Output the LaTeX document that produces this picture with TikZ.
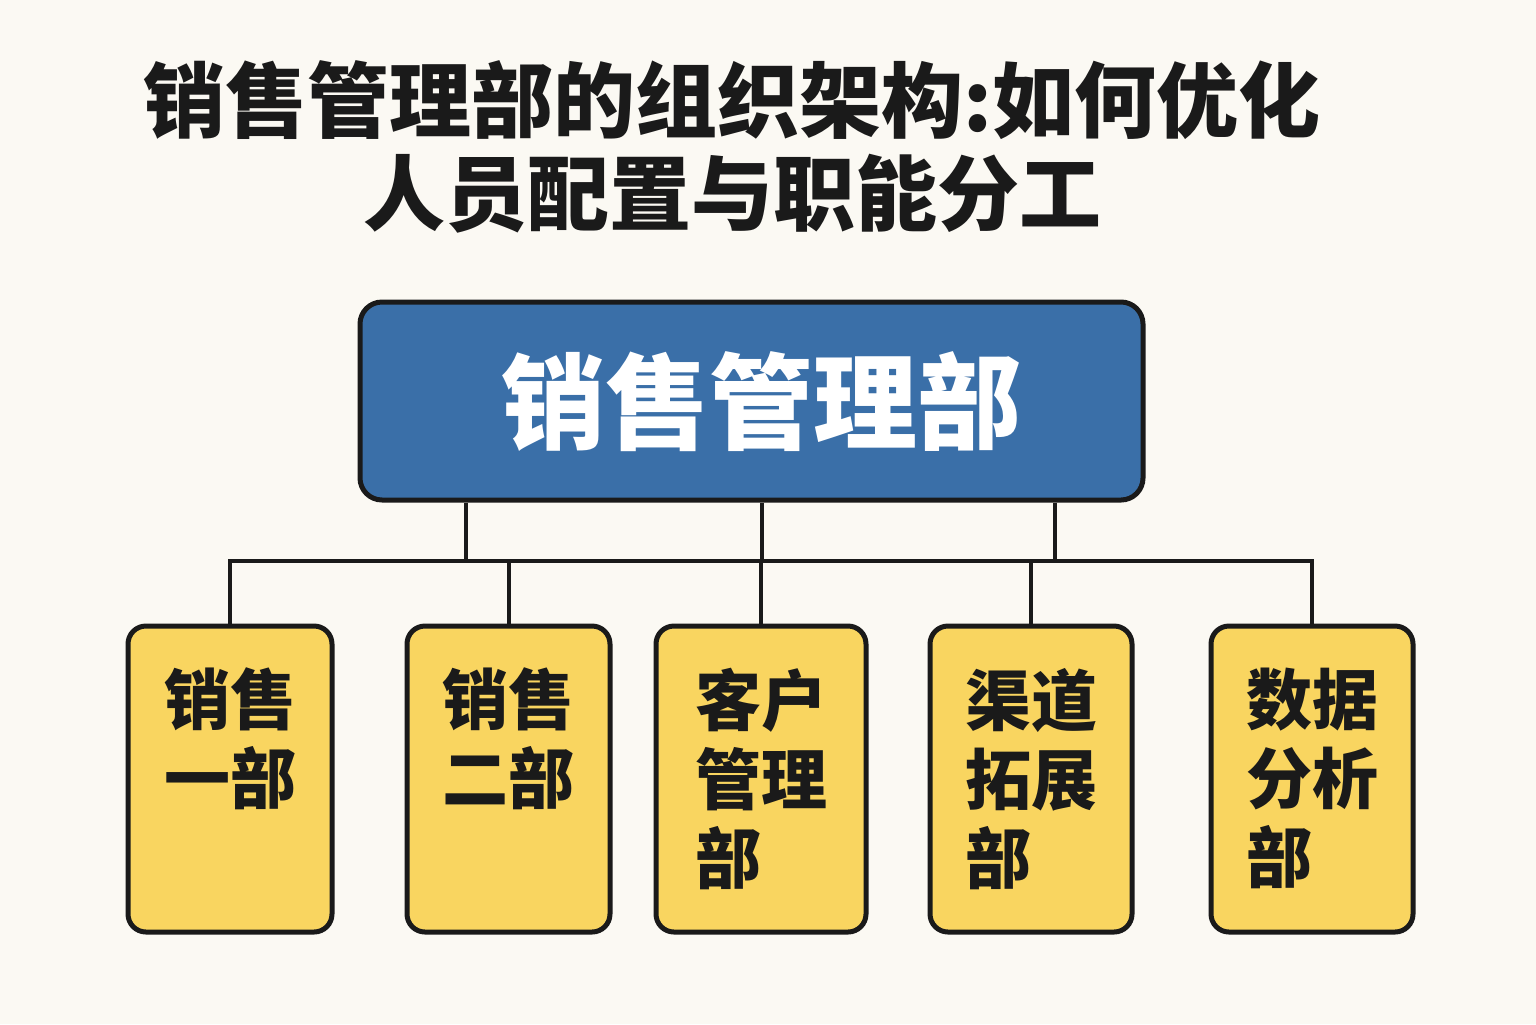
\documentclass[tikz,border=0pt]{standalone}
\usepackage{fontspec}
\setmainfont{Noto Sans CJK SC}
\usetikzlibrary{positioning,calc}
\definecolor{bgcream}{HTML}{FBF9F3}
\definecolor{topblue}{HTML}{3A6FA8}
\definecolor{deptyellow}{HTML}{F9D560}
\definecolor{inkblack}{HTML}{1A1A1A}
\tikzset{
  headbox/.style={draw=inkblack,line width=2.5pt,rounded corners=11pt,fill=topblue,
    minimum width=391.5pt,minimum height=99pt,inner sep=0pt},
  deptbox/.style={draw=inkblack,line width=2.5pt,rounded corners=9pt,fill=deptyellow,
    minimum height=153pt,inner sep=0pt},
  depttext/.style={anchor=north,align=left,inner sep=0pt,text=inkblack,
    font=\fontsize{33}{39.5}\selectfont\bfseries},
  link/.style={draw=inkblack,line width=2pt},
}

\begin{document}
\begin{tikzpicture}[x=0.5pt,y=-0.5pt]
\fill[bgcream] (0,0) rectangle (1536,1024);
\useasboundingbox (0,0) rectangle (1536,1024);
\node[text=inkblack,align=center,font=\fontsize{41}{46.5}\selectfont\bfseries] (title) at (732,147)
  {销售管理部的组织架构:如何优化\\人员配置与职能分工};
\node[headbox] (head) at (751.5,401) {};
\node[text=white,inner sep=0pt,font=\fontsize{52}{52}\selectfont\bfseries] (headt) at (761,402) {销售管理部};
\node[deptbox,minimum width=102pt] (d1) at (230,779) {};
\node[deptbox,minimum width=101.5pt] (d2) at (508.5,779) {};
\node[deptbox,minimum width=105pt] (d3) at (761,779) {};
\node[deptbox,minimum width=101pt] (d4) at (1031,779) {};
\node[deptbox,minimum width=101pt] (d5) at (1312,779) {};
\node[depttext] (d1t) at ($(d1.north)+(0,44)$) {销售\\一部};
\node[depttext] (d2t) at ($(d2.north)+(0,44)$) {销售\\二部};
\node[depttext] (d3t) at ($(d3.north)+(0,44)$) {客户\\管理\\部};
\node[depttext] (d4t) at ($(d4.north)+(0,44)$) {渠道\\拓展\\部};
\node[depttext] (d5t) at ($(d5.north)+(0,44)$) {数据\\分析\\部};
% bus between the levels
\coordinate (bus) at (0,561);
\coordinate (u1) at (466,561);
\coordinate (u2) at (762,561);
\coordinate (u3) at (1055,561);
\foreach \u in {u1,u2,u3}
  \draw[link] (head.south -| \u) -- (\u);
\draw[link] (d1.north) -- (d1.north |- bus) -- (d5.north |- bus) -- (d5.north);
\foreach \d in {d2,d3,d4}
  \draw[link] (\d.north |- bus) -- (\d.north);
\end{tikzpicture}
\end{document}
